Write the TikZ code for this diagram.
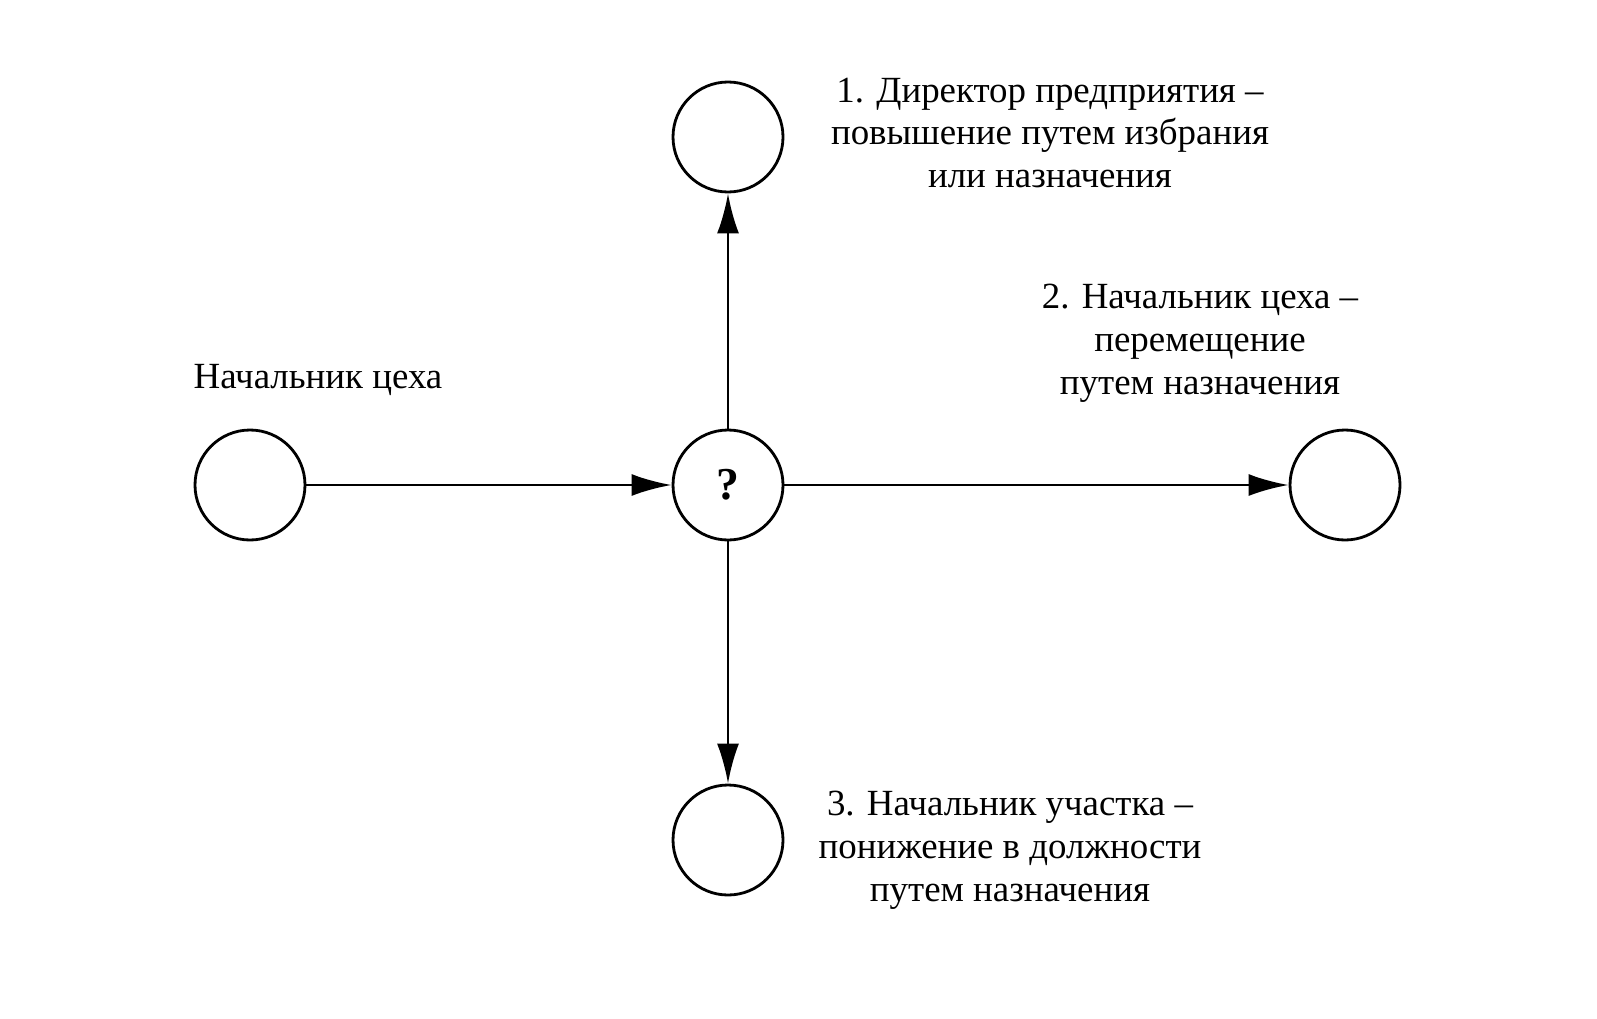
\documentclass[tikz,border=0pt]{standalone}
\usepackage{fontspec}
\setmainfont{Liberation Serif}
\usetikzlibrary{arrows.meta,positioning}
\tikzset{>={Latex[length=4mm,width=2.2mm]}}

\begin{document}
\begin{tikzpicture}[
roundnode/.style={circle, draw=black, thick, minimum size=11mm, inner sep=0pt},
labeltext/.style={align=center, font=\fontsize{10.5}{12.2}\selectfont},
]
\useasboundingbox (0,0) rectangle (15.97,10.18);
%Nodes
\node[roundnode](Start) at (2.50,5.33){};
\node[roundnode](Choice) at (7.28,5.33){\fontsize{13}{14}\selectfont\bfseries ?};
\node[roundnode](Director) at (7.28,8.81){};
\node[roundnode](Shop head) at (13.45,5.33){};
\node[roundnode](Section head) at (7.28,1.78){};

\node[labeltext](Start label) at (3.18,6.38){Начальник цеха};
\node[labeltext](Director label) at (10.50,8.85){1. Директор предприятия --\\повышение путем избрания\\или назначения};
\node[labeltext](Shop label) at (12.00,6.75){2. Начальник цеха --\\перемещение\\путем назначения};
\node[labeltext](Section label) at (10.10,1.68){3. Начальник участка --\\понижение в должности\\путем назначения};

%Lines
\draw[->, thick] (Start) -- (Choice);
\draw[->, thick] (Choice) -- (Director);
\draw[->, thick] (Choice) -- (Shop head);
\draw[->, thick] (Choice) -- (Section head);
\end{tikzpicture}
\end{document}
